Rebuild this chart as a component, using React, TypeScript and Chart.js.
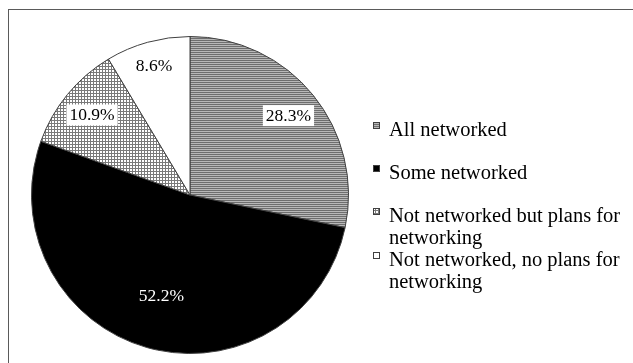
import React, { useEffect, useRef } from "react";
import { Chart, registerables } from "chart.js";

Chart.register(...registerables);

const categories = [
  "All networked",
  "Some networked",
  "Not networked but plans for networking",
  "Not networked, no plans for networking",
];
const values = [28.3, 52.2, 10.9, 8.6];

const FONT = '"Liberation Serif", "Times New Roman", serif';

function makePattern(kind: string): CanvasPattern | string {
  const c = document.createElement("canvas");
  const ctx = c.getContext("2d")!;
  if (kind === "hlines") {
    c.width = 4;
    c.height = 2;
    ctx.fillStyle = "#b8b8b8";
    ctx.fillRect(0, 0, 4, 2);
    ctx.fillStyle = "#6e6e6e";
    ctx.fillRect(0, 0, 4, 1);
  } else if (kind === "grid") {
    c.width = 3;
    c.height = 3;
    ctx.fillStyle = "#ffffff";
    ctx.fillRect(0, 0, 3, 3);
    ctx.fillStyle = "#7a7a7a";
    ctx.fillRect(0, 0, 3, 1);
    ctx.fillRect(0, 0, 1, 3);
  } else if (kind === "black") {
    return "#000000";
  } else {
    return "#ffffff";
  }
  return ctx.createPattern(c, "repeat")!;
}

const patternKinds = ["hlines", "black", "grid", "white"];
const labelRadius = [0.8, 0.66, 0.8, 0.85];
const labelColors = ["#000000", "#ffffff", "#000000", "#000000"];
const labelBoxes = [true, false, true, true];

export default function App() {
  const ref = useRef<HTMLCanvasElement>(null);

  useEffect(() => {
    const canvas = ref.current!;
    const fills = patternKinds.map(makePattern);

    const labelPlugin = {
      id: "sliceLabels",
      afterDatasetsDraw(chart: any) {
        const ctx = chart.ctx;
        const meta = chart.getDatasetMeta(0);
        ctx.save();
        ctx.font = `17.5px ${FONT}`;
        ctx.textAlign = "center";
        ctx.textBaseline = "middle";
        meta.data.forEach((arc: any, i: number) => {
          const mid = (arc.startAngle + arc.endAngle) / 2;
          const r = arc.outerRadius * labelRadius[i];
          const x = arc.x + Math.cos(mid) * r;
          const y = arc.y + Math.sin(mid) * r;
          const txt = values[i].toFixed(1) + "%";
          const w = ctx.measureText(txt).width;
          if (labelBoxes[i]) {
            ctx.fillStyle = "#ffffff";
            ctx.fillRect(x - w / 2 - 3, y - 10, w + 6, 21);
          }
          ctx.fillStyle = labelColors[i];
          ctx.fillText(txt, x, y + 1);
        });
        ctx.restore();
      },
    };

    const legendPlugin = {
      id: "sideLegend",
      afterDraw(chart: any) {
        const ctx = chart.ctx;
        ctx.save();
        ctx.font = `20.5px ${FONT}`;
        ctx.textBaseline = "alphabetic";
        ctx.textAlign = "left";
        const textX = 389;
        const boxX = 373;
        const maxW = 238;
        const lineH = 22;
        const gap = 21;
        let baseline = 136;
        categories.forEach((cat, i) => {
          const words = cat.split(" ");
          const lines: string[] = [];
          let cur = "";
          words.forEach((w) => {
            const test = cur ? cur + " " + w : w;
            if (ctx.measureText(test).width > maxW && cur) {
              lines.push(cur);
              cur = w;
            } else cur = test;
          });
          if (cur) lines.push(cur);
          ctx.fillStyle = fills[i];
          ctx.fillRect(boxX, baseline - 14, 7, 7);
          ctx.strokeStyle = "#404040";
          ctx.lineWidth = 1;
          ctx.strokeRect(boxX + 0.5, baseline - 13.5, 6, 6);
          ctx.fillStyle = "#000000";
          lines.forEach((ln, j) => {
            ctx.fillText(ln, textX, baseline + j * lineH);
          });
          baseline += (lines.length - 1) * lineH + (lines.length > 1 ? 0 : gap) + lineH;
        });
        ctx.restore();
      },
    };

    const chart = new Chart(canvas, {
      type: "pie",
      data: {
        labels: categories,
        datasets: [
          {
            data: values,
            backgroundColor: fills as any,
            borderColor: "#404040",
            borderWidth: 1,
          },
        ],
      },
      options: {
        responsive: false,
        animation: false,
        layout: { padding: { left: 31, top: 36, right: 284, bottom: 9 } },
        plugins: {
          legend: { display: false },
          tooltip: { enabled: false },
        },
      },
      plugins: [labelPlugin, legendPlugin],
    });
    return () => chart.destroy();
  }, []);

  return (
    <div>
      <div
        style={{
          position: "fixed",
          left: 8,
          top: 9,
          width: 1000,
          height: 1000,
          border: "1px solid #5a5a5a",
        }}
      />
      <canvas
        ref={ref}
        width={633}
        height={363}
        style={{ position: "fixed", left: 0, top: 0, width: 633, height: 363 }}
      />
    </div>
  );
}
